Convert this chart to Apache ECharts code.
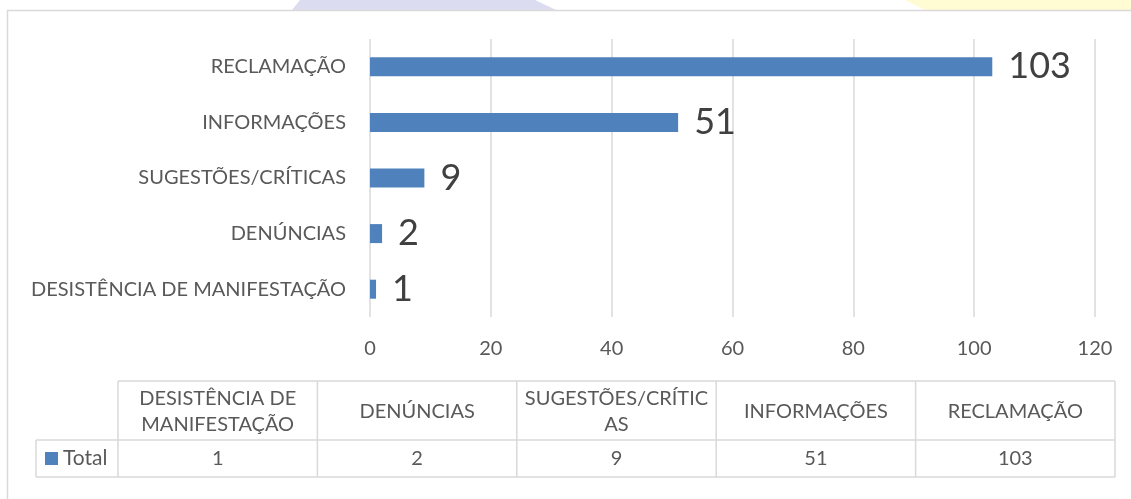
<!DOCTYPE html>
<html>
<head>
<meta charset="utf-8">
<script src="https://cdn.jsdelivr.net/npm/echarts@6/dist/echarts.min.js"></script>
<style>
  html, body { margin: 0; padding: 0; background: #fff; }
  #chart { width: 1131px; height: 499px; }
</style>
</head>
<body>
<div id="chart"></div>
<script>
// dados
const categories = ['DESISTÊNCIA DE MANIFESTAÇÃO', 'DENÚNCIAS', 'SUGESTÕES/CRÍTICAS', 'INFORMAÇÕES', 'RECLAMAÇÃO'];
const tableHeaders = ['DESISTÊNCIA DE\nMANIFESTAÇÃO', 'DENÚNCIAS', 'SUGESTÕES/CRÍTIC\nAS', 'INFORMAÇÕES', 'RECLAMAÇÃO'];
const totals = [1, 2, 9, 51, 103];
const seriesName = 'Total';

// cores
const BAR_COLOR = '#4f81bd';
const GRID_COLOR = '#d9d9d9';
const TEXT_COLOR = '#595959';
const LABEL_COLOR = '#404040';
const FONT = 'Lato';

const chart = echarts.init(document.getElementById('chart'));

// tabela de dados (abaixo do gráfico)
const tableLeft = 118;
const colW = 199.4;
const headTop = 381;
const rowMid = 440;
const rowBottom = 477;
const legendLeft = 36;

const tableGraphics = [];
const line = (x1, y1, x2, y2) => ({
  type: 'line',
  shape: { x1, y1, x2, y2 },
  style: { stroke: GRID_COLOR, lineWidth: 1.5 },
  silent: true
});
const tableRight = tableLeft + colW * categories.length;
tableGraphics.push(line(tableLeft, headTop, tableRight, headTop));
tableGraphics.push(line(legendLeft, rowMid, tableRight, rowMid));
tableGraphics.push(line(legendLeft, rowBottom, tableRight, rowBottom));
tableGraphics.push(line(legendLeft, rowMid, legendLeft, rowBottom));
for (let i = 0; i <= categories.length; i++) {
  const x = tableLeft + colW * i;
  tableGraphics.push(line(x, headTop, x, rowBottom));
}
tableHeaders.forEach((h, i) => {
  tableGraphics.push({
    type: 'text',
    x: tableLeft + colW * (i + 0.5),
    y: (headTop + rowMid) / 2 + 1,
    style: {
      text: h, fill: TEXT_COLOR, font: '20px ' + FONT,
      align: 'center', verticalAlign: 'middle', lineHeight: 26
    },
    silent: true
  });
});
totals.forEach((v, i) => {
  tableGraphics.push({
    type: 'text',
    x: tableLeft + colW * (i + 0.5),
    y: (rowMid + rowBottom) / 2,
    style: {
      text: String(v), fill: TEXT_COLOR, font: '20px ' + FONT,
      align: 'center', verticalAlign: 'middle'
    },
    silent: true
  });
});
// legenda dentro da tabela
tableGraphics.push({
  type: 'rect',
  shape: { x: 45, y: 452, width: 13, height: 13 },
  style: { fill: BAR_COLOR },
  silent: true
});
tableGraphics.push({
  type: 'text',
  x: 63, y: (rowMid + rowBottom) / 2,
  style: { text: seriesName, fill: TEXT_COLOR, font: '21px ' + FONT, verticalAlign: 'middle' },
  silent: true
});

// marca d'água no topo e moldura
const decoGraphics = [
  {
    type: 'polygon',
    shape: { points: [[300, 0], [535, 0], [556, 10], [292, 10]] },
    style: { fill: '#dcdcf1' },
    silent: true
  },
  {
    type: 'polygon',
    shape: { points: [[905, 0], [1131, 0], [1131, 10], [925, 10]] },
    style: { fill: '#fffbd2' },
    silent: true
  },
  {
    type: 'rect',
    shape: { x: 7.5, y: 10.5, width: 1140, height: 500 },
    style: { fill: null, stroke: GRID_COLOR, lineWidth: 1.5 },
    silent: true
  }
];

const option = {
  backgroundColor: '#fff',
  animation: false,
  textStyle: { fontFamily: FONT },
  grid: {
    left: 370,
    right: 36,
    top: 39,
    height: 278,
    containLabel: false
  },
  xAxis: {
    type: 'value',
    min: 0,
    max: 120,
    interval: 20,
    axisLine: { show: false },
    axisTick: { show: false },
    axisLabel: { color: TEXT_COLOR, fontSize: 20, margin: 22, fontFamily: FONT },
    splitLine: { lineStyle: { color: GRID_COLOR, width: 1.5 } }
  },
  yAxis: {
    type: 'category',
    data: categories,
    axisLine: { show: false },
    axisTick: { show: false },
    axisLabel: { color: TEXT_COLOR, fontSize: 20, margin: 24, fontFamily: FONT }
  },
  series: [
    {
      name: seriesName,
      type: 'bar',
      data: totals,
      barWidth: 19,
      itemStyle: { color: BAR_COLOR },
      label: {
        show: true,
        position: 'right',
        distance: 16,
        color: LABEL_COLOR,
        fontSize: 36,
        fontFamily: FONT
      }
    }
  ],
  graphic: decoGraphics.concat(tableGraphics)
};

chart.setOption(option);
</script>
</body>
</html>
